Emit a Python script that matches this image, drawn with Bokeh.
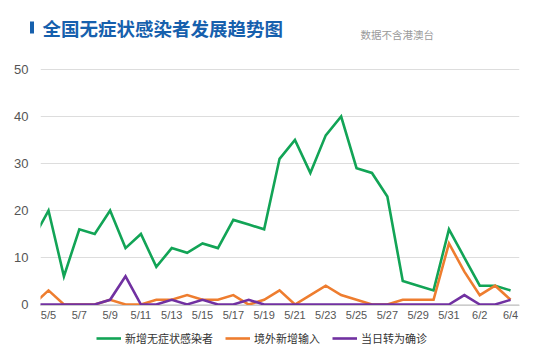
from bokeh.plotting import figure
from bokeh.layouts import column, row
from bokeh.models import Range1d, FixedTicker, Legend, LegendItem
from bokeh.core.properties import value
from bokeh.embed import file_html
from bokeh.resources import INLINE

dates = ["5/4", "5/5", "5/6", "5/7", "5/8", "5/9", "5/10", "5/11", "5/12", "5/13",
         "5/14", "5/15", "5/16", "5/17", "5/18", "5/19", "5/20", "5/21", "5/22", "5/23",
         "5/24", "5/25", "5/26", "5/27", "5/28", "5/29", "5/30", "5/31", "6/1", "6/2",
         "6/3", "6/4"]
asymptomatic = [14, 20, 6, 16, 15, 20, 12, 15, 8, 12, 11, 13, 12, 18, 17, 16, 31, 35, 28, 36,
                40, 29, 28, 23, 5, 4, 3, 16, 10, 4, 4, 3]
imported = [0, 3, 0, 0, 0, 1, 0, 0, 1, 1, 2, 1, 1, 2, 0, 1, 3, 0, 2, 4,
            2, 1, 0, 0, 1, 1, 1, 13, 7, 2, 4, 1]
confirmed = [0, 0, 0, 0, 0, 1, 6, 0, 0, 1, 0, 1, 0, 0, 1, 0, 0, 0, 0, 0,
             0, 0, 0, 0, 0, 0, 0, 0, 2, 0, 0, 1]
series_names = ["新增无症状感染者", "境外新增输入", "当日转为确诊"]
y_ticks = [0, 10, 20, 30, 40, 50]
title_text = "全国无症状感染者发展趋势图"
note_text = "数据不含港澳台"

colors = ["#12a456", "#ee7d2f", "#7131a1"]
title_color = "#1660ad"
idx = list(range(len(dates)))

W = 534


def bare(fig):
    fig.grid.visible = False
    fig.outline_line_color = None


# ---------------- header ----------------
h = figure(width=W, height=58, output_backend="svg", toolbar_location=None,
           x_range=Range1d(0, W), y_range=Range1d(58, 0),
           x_axis_location=None, y_axis_location=None,
           min_border_left=0, min_border_right=0, min_border_top=0, min_border_bottom=0)
bare(h)
h.quad(left=[29.5], right=[33.5], top=[21], bottom=[33], fill_color=title_color, line_color=None)
h.text(x=[42], y=[27], text=[title_text], text_font=value("Noto Sans CJK SC"),
       text_font_style="bold", text_font_size="18.5px", text_color=title_color,
       text_baseline="middle", text_align="left")
h.text(x=[360], y=[34], text=[note_text], text_font=value("Noto Sans CJK SC"),
       text_font_size="10.5px", text_color="#9a9a9a",
       text_baseline="middle", text_align="left")

# ---------------- chart ----------------
p = figure(width=W, height=270, output_backend="svg", toolbar_location=None,
           x_range=Range1d(0.48, 31.58), y_range=Range1d(-0.21, 50.43),
           min_border_left=40, min_border_right=15, min_border_top=9, min_border_bottom=23)
p.outline_line_color = None

for ys, c in zip([asymptomatic, imported, confirmed], colors):
    p.line(idx, ys, line_color=c, line_width=2.6, line_join="miter")

p.xaxis.ticker = FixedTicker(ticks=[i for i in idx if i % 2 == 1])
p.xaxis.major_label_overrides = {i: dates[i] for i in idx}
p.xaxis.axis_line_color = "#cccccc"
p.xaxis.major_tick_line_color = None
p.xaxis.minor_tick_line_color = None
p.xaxis.major_tick_out = 0
p.xaxis.major_tick_in = 0
p.xaxis.minor_tick_out = 0
p.xaxis.major_label_text_font = "Liberation Sans"
p.xaxis.major_label_text_font_size = "11px"
p.xaxis.major_label_text_color = "#555555"
p.xaxis.major_label_standoff = 3

p.yaxis.ticker = FixedTicker(ticks=y_ticks)
p.yaxis.axis_line_color = None
p.yaxis.major_tick_line_color = None
p.yaxis.minor_tick_line_color = None
p.yaxis.major_tick_out = 0
p.yaxis.major_tick_in = 0
p.yaxis.minor_tick_out = 0
p.yaxis.major_label_text_font = "Liberation Sans"
p.yaxis.major_label_text_font_size = "13px"
p.yaxis.major_label_text_color = "#555555"
p.yaxis.major_label_standoff = 12

p.xgrid.grid_line_color = None
p.ygrid.grid_line_color = "#dddddd"
p.ygrid.grid_line_width = 1

# ---------------- legend footer ----------------
f = figure(width=W, height=32, output_backend="svg", toolbar_location=None,
           x_range=Range1d(0, W), y_range=Range1d(32, 0),
           x_axis_location=None, y_axis_location=None,
           min_border_left=0, min_border_right=0, min_border_top=0, min_border_bottom=0)
bare(f)
keys = [f.line(x=[-20, -10], y=[-20, -20], line_color=c, line_width=2.6) for c in colors]
legend = Legend(items=[LegendItem(label=n, renderers=[r]) for n, r in zip(series_names, keys)],
                location=(96, 14), orientation="horizontal",
                padding=0, margin=0, spacing=12, label_standoff=4,
                glyph_width=25, glyph_height=12, label_height=12,
                label_text_font="Noto Sans CJK SC", label_text_font_size="11px",
                label_text_color="#333333", label_text_baseline="middle",
                border_line_color=None, background_fill_alpha=0)
f.add_layout(legend)

layout = column(row(h), p, row(f), spacing=0)
open("out.html", "w").write(file_html(layout, INLINE))
